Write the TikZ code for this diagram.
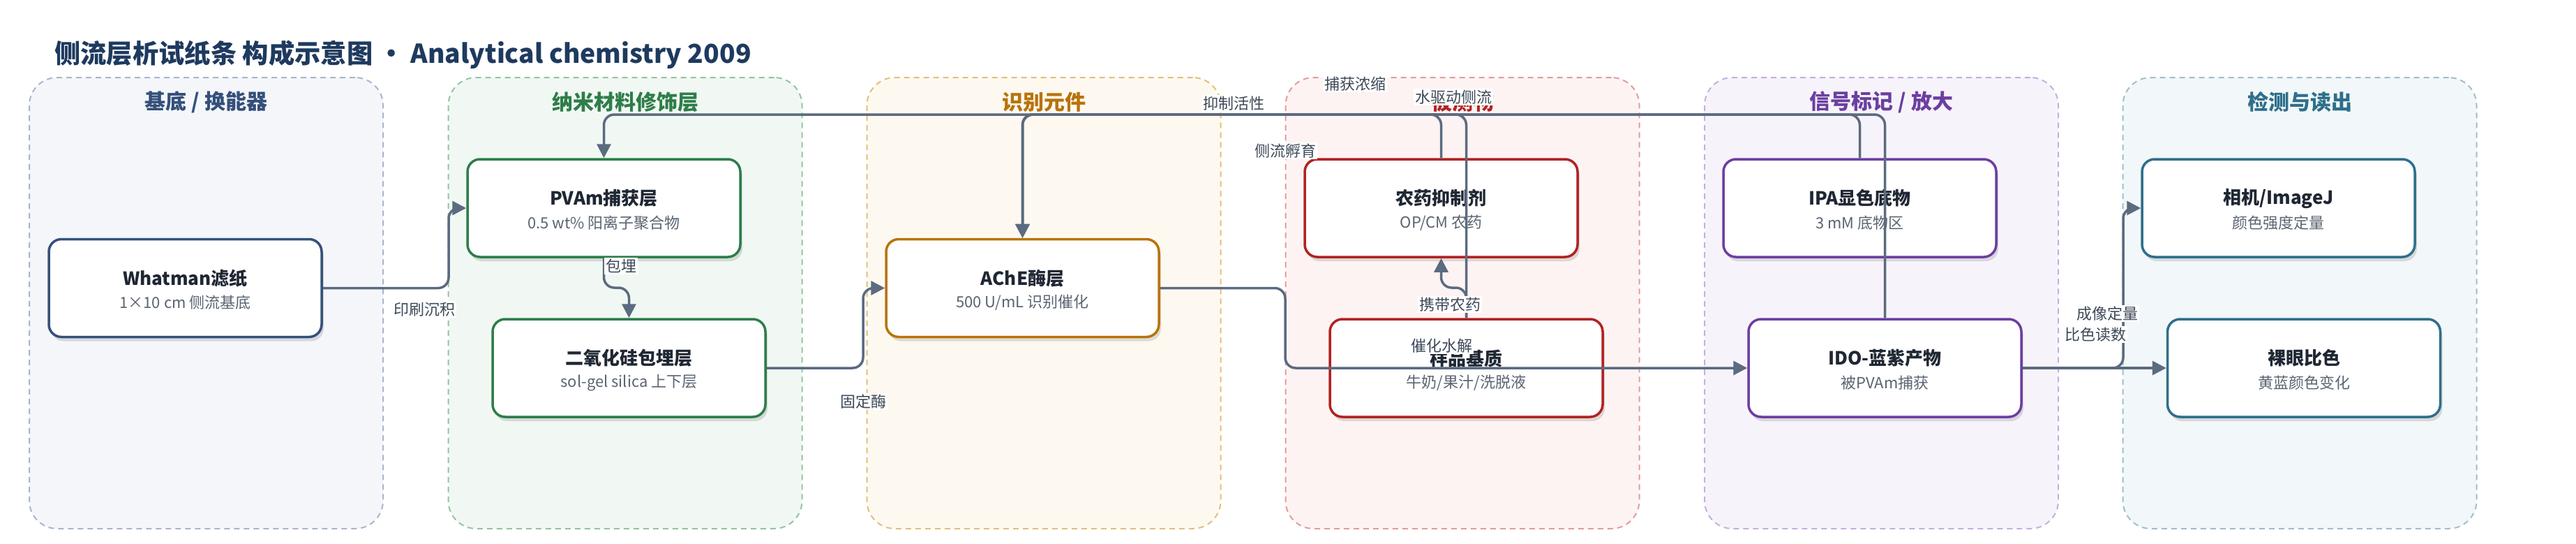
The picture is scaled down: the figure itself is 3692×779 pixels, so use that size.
\documentclass[tikz,border=0pt]{standalone}
\usepackage{fontspec}
\setmainfont{Noto Sans CJK SC}
\usetikzlibrary{arrows.meta,shadows}
\definecolor{ec}{HTML}{5B6B80}
\definecolor{lc}{HTML}{3D4957}
\definecolor{tc}{HTML}{1F2733}
\definecolor{sc}{HTML}{5A6472}
\definecolor{hc}{HTML}{1E3A5F}
\definecolor{fA}{HTML}{F4F6FA}\definecolor{bA}{HTML}{A9B6CB}\definecolor{cA}{HTML}{34507A}
\definecolor{fB}{HTML}{F1F8F3}\definecolor{bB}{HTML}{94C4A2}\definecolor{cB}{HTML}{2E7D4A}
\definecolor{fC}{HTML}{FEF9F0}\definecolor{bC}{HTML}{E3BF7D}\definecolor{cC}{HTML}{B8730A}
\definecolor{fD}{HTML}{FDF3F3}\definecolor{bD}{HTML}{E39C9C}\definecolor{cD}{HTML}{B22222}
\definecolor{fE}{HTML}{F7F3FB}\definecolor{bE}{HTML}{C4B0DD}\definecolor{cE}{HTML}{6B3FA0}
\definecolor{fF}{HTML}{F2F7F9}\definecolor{bF}{HTML}{9EC0CC}\definecolor{cF}{HTML}{2E6F8A}
\tikzset{
  grp/.style 2 args={draw=#2, fill=#1, line width=2pt, dash pattern=on 8pt off 6pt,
    rounded corners=40pt, minimum width=507pt, minimum height=646pt, inner sep=0pt},
  gtitle/.style={font=\fontsize{30}{30}\selectfont\bfseries, text=#1, inner sep=0pt},
  box/.style={draw=#1, fill=white, line width=3.5pt, rounded corners=18pt,
    minimum width=391pt, minimum height=140pt, inner sep=0pt,
    drop shadow={shadow xshift=3pt, shadow yshift=-6pt, opacity=0.12, fill=black}},
  ntitle/.style={font=\fontsize{26}{26}\selectfont\bfseries, text=tc, inner sep=0pt},
  nsub/.style={font=\fontsize{22}{22}\selectfont, text=sc, inner sep=0pt},
  conn/.style={draw=ec, line width=3.5pt, rounded corners=15pt,
    -{Triangle[length=20pt,width=20pt]}},
  elabel/.style={fill=white, text=lc, font=\fontsize{22}{22}\selectfont, inner sep=2pt},
}
\newcommand\mkbox[6]{%
  \node[box=#4] (#1) at (#2,#3) {};
  \node[ntitle] (#1-t) at ([yshift=14pt]#1.center) {#5};
  \node[nsub] (#1-s) at ([yshift=-21pt]#1.center) {#6};
}
\begin{document}
\begin{tikzpicture}[x=1pt,y=-1pt]
\useasboundingbox (0,0) rectangle (3692,779);
\fill[white] (0,0) rectangle (3692,779);
% title
\node[anchor=west, inner sep=0pt, text=hc, font=\fontsize{37.3}{37.3}\selectfont\bfseries] (title) at (78,78)
  {侧流层析试纸条 构成示意图 · Analytical chemistry 2009};
% groups
\node[grp={fA}{bA}] (g1) at (295.5,434) {};
\node[grp={fB}{bB}] (g2) at (896,434) {};
\node[grp={fC}{bC}] (g3) at (1496,434) {};
\node[grp={fD}{bD}] (g4) at (2096,434) {};
\node[grp={fE}{bE}] (g5) at (2696.5,434) {};
\node[grp={fF}{bF}] (g6) at (3296,434) {};
\node[gtitle=cA] (g1t) at (295.5,146) {基底 / 换能器};
\node[gtitle=cB] (g2t) at (896,146) {纳米材料修饰层};
\node[gtitle=cC] (g3t) at (1496,146) {识别元件};
\node[gtitle=cD] (g4t) at (2096,146) {被测物};
\node[gtitle=cE] (g5t) at (2696.5,146) {信号标记 / 放大};
\node[gtitle=cF] (g6t) at (3296,146) {检测与读出};
% nodes
\mkbox{whatman}{265.5}{412.5}{cA}{Whatman滤纸}{1×10 cm 侧流基底}
\mkbox{pvam}{865.5}{298}{cB}{PVAm捕获层}{0.5 wt\% 阳离子聚合物}
\mkbox{silica}{901.5}{527}{cB}{二氧化硅包埋层}{sol-gel silica 上下层}
\mkbox{ache}{1465.5}{412.5}{cC}{AChE酶层}{500 U/mL 识别催化}
\mkbox{nongyao}{2065.5}{298}{cD}{农药抑制剂}{OP/CM 农药}
\mkbox{yangpin}{2101.5}{527}{cD}{样品基质}{牛奶/果汁/洗脱液}
\mkbox{ipa}{2665.5}{298}{cE}{IPA显色底物}{3 mM 底物区}
\mkbox{ido}{2701.5}{527}{cE}{IDO-蓝紫产物}{被PVAm捕获}
\mkbox{xiangji}{3265.5}{298}{cF}{相机/ImageJ}{颜色强度定量}
\mkbox{luoyan}{3302}{527}{cF}{裸眼比色}{黄蓝颜色变化}
% connectors
\draw[conn] (whatman.east) -- (643,412.5) |- (pvam.west);
\draw[conn] (pvam.south) -- (865.5,412) -| (silica.north);
\draw[conn] (silica.east) -- (1237,527) |- (ache.west);
\draw[conn] (nongyao.north) -- (2065.5,164) -| (ache.north);
\draw[conn] (ipa.north) -- (2665.5,164) -| (ache.north);
\draw[conn] (yangpin.north) -- (2101.5,164) -| (ache.north);
\draw[conn] (ido.north) -- (2701.5,164) -| (pvam.north);
\draw[conn] (yangpin.north) -- (2101.5,412) -| (nongyao.south);
\draw[conn] (ache.east) -- (1842,412.5) |- (ido.west);
\draw[conn] (ido.east) -- (3043,527) |- (xiangji.west);
\draw[conn] (ido.east) -- (luoyan.west);
% labels
\node[elabel] (l1) at (608,443) {印刷沉积};
\node[elabel] (l2) at (890,381) {包埋};
\node[elabel] (l3) at (1237,575) {固定酶};
\node[elabel] (l4) at (1768,148) {抑制活性};
\node[elabel] (l5) at (1942,120) {捕获浓缩};
\node[elabel] (l6) at (2083,139) {水驱动侧流};
\node[elabel] (l7) at (1842,216) {侧流孵育};
\node[elabel] (l8) at (2078,436) {携带农药};
\node[elabel] (l9) at (2066,495) {催化水解};
\node[elabel] (l10) at (3020,449) {成像定量};
\node[elabel] (l11) at (3003,479) {比色读数};
\end{tikzpicture}
\end{document}
